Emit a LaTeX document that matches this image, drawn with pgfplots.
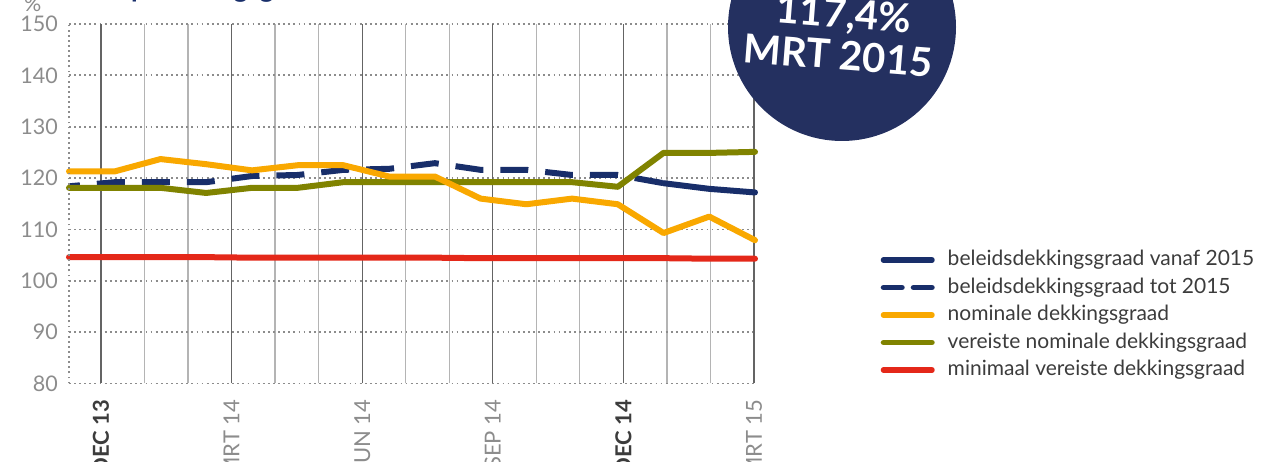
\documentclass[border=0pt]{standalone}
\usepackage{fontspec}
\setmainfont{Lato}
\usepackage{pgfplots}
\pgfplotsset{compat=1.18}
\definecolor{dblue}{RGB}{24,46,106}
\definecolor{circ}{RGB}{36,48,96}
\definecolor{orng}{RGB}{249,168,0}
\definecolor{olive}{RGB}{128,131,0}
\definecolor{redl}{RGB}{228,40,25}
\definecolor{ticklab}{RGB}{140,140,140}
\definecolor{darklab}{RGB}{60,60,60}
\definecolor{legtext}{RGB}{60,60,60}
\definecolor{lightgrid}{RGB}{180,180,180}
\definecolor{darkgrid}{RGB}{100,100,100}
\definecolor{dotgrid}{RGB}{140,140,140}
\begin{document}
\begin{tikzpicture}[x=1pt,y=1pt]
\useasboundingbox (0,0) rectangle (1261,462);
\begin{axis}[
  at={(69pt,78.5pt)}, anchor=south west,
  scale only axis, width=686pt, height=359.5pt,
  xmin=0, xmax=15, ymin=80, ymax=150,
  clip=false,
  axis line style={draw=none},
  major tick length=0pt,
  ytick={80,90,...,150},
  yticklabel style={font=\fontsize{21.5}{24}\selectfont, text=ticklab, inner sep=0pt, xshift=-11pt},
  /pgf/number format/assume math mode=true,
  ymajorgrids,
  y grid style={draw=dotgrid, line width=1.8pt, dash pattern=on 1.8pt off 3.3pt},
  xmajorgrids,
  x grid style={draw=lightgrid, line width=1.3pt},
  xtick={1.652,2.603,4.507,5.459,7.362,8.314,10.218,11.170,13.073,14.025},
  xticklabels={},
  xticklabel style={yshift=-16pt, rotate=90, anchor=east, inner sep=0pt, font=\fontsize{22}{24}\selectfont, text=ticklab},
  extra x ticks={0.700,3.555,6.411,9.266,12.121,14.977},
  extra x tick labels={{\textbf{\color{darklab}DEC 13}},MRT 14,JUN 14,SEP 14,{\textbf{\color{darklab}DEC 14}},MRT 15},
  extra x tick style={grid=major, x grid style={draw=darkgrid, line width=1.3pt}, major grid style={draw=darkgrid, line width=1.3pt}},
  legend style={at={(1.183,0.373)}, anchor=north west, draw=none, fill=none, inner sep=0pt,
    font=\fontsize{21}{24}\selectfont, text=legtext,
    nodes={inner sep=0pt, text height=16pt, text depth=5pt},
    row sep=6.5pt,
    /tikz/every odd column/.append style={column sep=13pt}},
  legend cell align=left,
]
% legend entries
\addlegendimage{legend image code/.code={\draw[dblue, line width=5.5pt, line cap=round] (2.75pt,0pt) -- (51.25pt,0pt);}}
\addlegendentry{beleidsdekkingsgraad vanaf 2015}
\addlegendimage{legend image code/.code={\draw[dblue, line width=5.5pt, line cap=round] (2.75pt,0pt) -- (21.25pt,0pt); \draw[dblue, line width=5.5pt, line cap=round] (32.75pt,0pt) -- (51.25pt,0pt);}}
\addlegendentry{beleidsdekkingsgraad tot 2015}
\addlegendimage{legend image code/.code={\draw[orng, line width=5.5pt, line cap=round] (2.75pt,0pt) -- (51.25pt,0pt);}}
\addlegendentry{nominale dekkingsgraad}
\addlegendimage{legend image code/.code={\draw[olive, line width=5.5pt, line cap=round] (2.75pt,0pt) -- (51.25pt,0pt);}}
\addlegendentry{vereiste nominale dekkingsgraad}
\addlegendimage{legend image code/.code={\draw[redl, line width=5.5pt, line cap=round] (2.75pt,0pt) -- (51.25pt,0pt);}}
\addlegendentry{minimaal vereiste dekkingsgraad}
% data
\addplot[forget plot, dblue, line width=6pt, line join=round, dash pattern=on 28pt off 17pt, dash phase=17pt] coordinates {
(0,118.4) (1,119.2) (2,119.2) (3,119.2) (4,120.4) (5,120.6) (6,121.6) (7,121.8) (8,122.9) (9,121.6) (10,121.6) (11,120.6) (12,120.6) (13,119.0)};
\addplot[forget plot, dblue, line width=6pt, line join=round, line cap=round] coordinates {
(13,119.0) (14,117.9) (15,117.2)};
\addplot[forget plot, olive, line width=6pt, line join=round, line cap=round] coordinates {
(0,118.1) (1,118.1) (2,118.1) (3,117.1) (4,118.1) (5,118.1) (6,119.2) (7,119.2) (8,119.2) (9,119.2) (10,119.2) (11,119.2) (12,118.3) (13,124.9) (14,124.9) (15,125.1)};
\addplot[forget plot, orng, line width=6pt, line join=round, line cap=round] coordinates {
(0,121.3) (1,121.3) (2,123.7) (3,122.7) (4,121.5) (5,122.5) (6,122.5) (7,120.3) (8,120.3) (9,116.0) (10,114.9) (11,116.0) (12,114.9) (13,109.3) (14,112.5) (15,107.9)};
\addplot[forget plot, redl, line width=6pt, line join=round, line cap=round] coordinates {
(0,104.6) (1,104.6) (2,104.6) (3,104.6) (4,104.5) (5,104.5) (6,104.5) (7,104.5) (8,104.5) (9,104.4) (10,104.4) (11,104.4) (12,104.4) (13,104.4) (14,104.3) (15,104.3)};
\draw[draw=dotgrid, line width=1.8pt, dash pattern=on 1.8pt off 3.3pt] (rel axis cs:0,0) -- (rel axis cs:0,1);
\end{axis}
% percent sign and title
\node[anchor=base west, inner sep=0pt, text=ticklab, font=\fontsize{21.5}{24}\selectfont] at (24,450) {\%};
\node[anchor=base west, inner sep=0pt, text=dblue, font=\fontsize{27}{30}\selectfont\bfseries] at (52,464) {Verloop dekkingsgraad};
% circle
\fill[circ] (842,435) circle (114);
\node[anchor=base, inner sep=0pt, text=white, rotate=-4.5, font=\fontsize{40}{44}\selectfont\bfseries] at (843,434) {117,4\%};
\node[anchor=base, inner sep=0pt, text=white, rotate=-4.5, font=\fontsize{40}{44}\selectfont\bfseries] at (837,392.5) {MRT 2015};
\end{tikzpicture}
\end{document}
